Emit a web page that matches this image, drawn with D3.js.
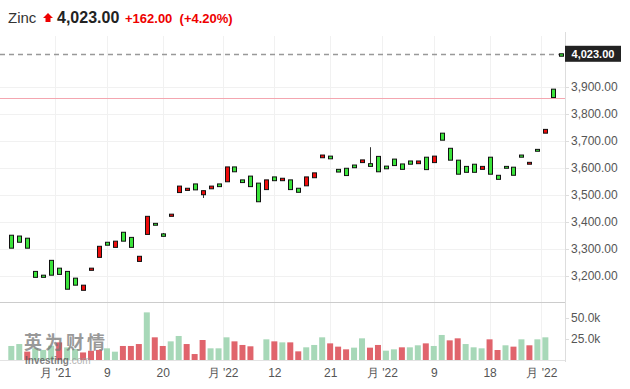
<!DOCTYPE html>
<html>
<head>
<meta charset="utf-8">
<script src="https://cdn.jsdelivr.net/npm/d3@7"></script>
<style>
  body { margin:0; padding:0; background:#fff; }
  svg { display:block; font-family: Arial, "Liberation Sans", "Noto Sans CJK SC", sans-serif; }
</style>
</head>
<body>
<svg id="chart" width="630" height="389"></svg>
<script>
// daily candles, one per trading day (index 0..69)
var opens  = [3303,3325,3303,3195,3195,3203,3206,3151,3166,3166,3229,3310,3314,3329,3329,3306,3273,3421,3388,3347,
              3429,3533,3525,3519,3516,3533,3531,3604,3586,3546,3531,3475,3556,3553,3562,3520,3510,3567,3582,3648,
              3634,3585,3572,3601,3630,3606,3586,3597,3609,3595,3614,3626,3594,3644,3703,3629,3577,3584,3584,3606,
              3577,3558,3599,3573,3640,3621,3662,3743,3861,4014];
var closes = [3351,3348,3340,3217,3203,3258,3229,3217,3192,3147,3221,3269,3325,3306,3362,3343,3254,3354,3395,3356,
              3421,3509,3517,3541,3501,3523,3541,3549,3604,3556,3570,3544,3520,3567,3553,3556,3525,3534,3564,3638,
              3644,3595,3599,3611,3620,3616,3643,3607,3633,3615,3626,3616,3640,3620,3729,3673,3629,3606,3614,3595,
              3640,3573,3606,3603,3648,3614,3669,3729,3892,4023];
// the few days that show a wick
var wickIdx = [19, 24, 45];
var wickHi  = [3359, 3516, 3677];
var wickLo  = [3347, 3489, 3606];

// volume in thousands, and whether the bar is drawn green
var volumes = [16.7,19,10,14,12,17,21,15,13,9,11,12,13.9,9.9,16.7,16.7,19,56.7,27,16.7,
               22.2,28.6,19,7.1,23.8,13.9,13.9,27,22.2,17.9,16.3,0,24.6,22.2,21,21,10.3,15.1,17.9,27,
               19.8,15.9,12.7,14.7,25.8,14.7,17.9,11.1,12.7,15.1,15.1,17.5,19.8,16.7,29.8,23.4,25.8,19,15.1,13.9,
               24.6,11.9,17.5,15.9,24.6,17.5,24.6,27,0,0];
var volUp = [1,1,0,1,1,1,0,1,1,0,0,0,1,1,0,0,0,1,0,0,
             1,1,0,0,0,1,1,1,0,0,0,1,1,0,1,0,0,1,1,1,
             0,0,0,1,1,0,0,1,1,0,1,1,0,1,1,0,0,1,1,1,
             0,0,1,0,1,0,1,1,1,1];

var priceTicks = [3200,3300,3400,3500,3600,3700,3800,3900];
var volTicks = [25,50];
var dayTicks = [5.5,12,19,26.5,33,40,46.5,53,60,66.5];
var dayLabels = ["月 '21","9","20","月 '22","12","21","月 '22","9","18","月 '22"];

var lastPrice = 4023, change = 162, changePct = 4.20;
var prevClose = lastPrice - change;

var svg = d3.select("#chart");
var plotLeft = 0, plotRight = 565, plotTop = 36, plotBottom = 300;
var volTop = 302, volBottom = 360;

var x = d3.scaleLinear().domain([0, 69]).range([11.3, 561.3]);
var y = d3.scaleLinear().domain([3200, 3900]).range([276, 87]);
var yv = d3.scaleLinear().domain([0, 50]).range([volBottom, 318]);

// header
var head = svg.append("g");
head.append("text").attr("x", 8).attr("y", 23).attr("font-size", 15).attr("fill", "#333").text("Zinc");
head.append("path").attr("d", "M48,13 L53,18 L50.5,18 L50.5,22 L45.5,22 L45.5,18 L43,18 Z").attr("fill", "#e00");
head.append("text").attr("x", 57).attr("y", 23).attr("font-size", 16).attr("font-weight", "bold").attr("fill", "#222")
    .text(d3.format(",.2f")(lastPrice));
head.append("text").attr("x", 125).attr("y", 23).attr("font-size", 13).attr("font-weight", "bold").attr("fill", "#e00")
    .text("+" + d3.format(".2f")(change) + "  (+" + d3.format(".2f")(changePct) + "%)")
    .attr("xml:space", "preserve").style("white-space", "pre");

// grids
var grid = svg.append("g").attr("stroke", "#f1f1f1").attr("stroke-width", 1);
grid.selectAll(".hg").data(priceTicks).enter().append("line")
    .attr("x1", plotLeft).attr("x2", plotRight)
    .attr("y1", function(d) { return Math.round(y(d)) + 0.5; })
    .attr("y2", function(d) { return Math.round(y(d)) + 0.5; });
grid.selectAll(".vg").data(dayTicks).enter().append("line")
    .attr("x1", function(d) { return Math.round(x(d)) + 0.5; })
    .attr("x2", function(d) { return Math.round(x(d)) + 0.5; })
    .attr("y1", plotTop).attr("y2", volBottom);

// previous close line
svg.append("line").attr("x1", plotLeft).attr("x2", plotRight)
    .attr("y1", Math.round(y(prevClose)) + 0.5).attr("y2", Math.round(y(prevClose)) + 0.5)
    .attr("stroke", "#f4a6b0").attr("stroke-width", 1);

// last price dashed line
svg.append("line").attr("x1", plotLeft).attr("x2", plotRight)
    .attr("y1", Math.round(y(lastPrice)) + 0.5).attr("y2", Math.round(y(lastPrice)) + 0.5)
    .attr("stroke", "#999").attr("stroke-width", 1.5).attr("stroke-dasharray", "5,4");

// volume panel frame
svg.append("line").attr("x1", 0).attr("x2", plotRight).attr("y1", volTop + 0.5).attr("y2", volTop + 0.5)
    .attr("stroke", "#ccc");
svg.append("line").attr("x1", 0).attr("x2", plotRight).attr("y1", volBottom + 0.5).attr("y2", volBottom + 0.5)
    .attr("stroke", "#e3e3e3");

// volume bars
var days = d3.range(opens.length);
svg.append("g").selectAll("rect").data(days.filter(function(i) { return volumes[i] > 0; })).enter().append("rect")
    .attr("x", function(i) { return x(i) - 3; })
    .attr("width", 6)
    .attr("y", function(i) { return yv(volumes[i]); })
    .attr("height", function(i) { return volBottom - yv(volumes[i]); })
    .attr("fill", function(i) { return volUp[i] ? "#a7d8b8" : "#e0646c"; });

// watermark
var wm = svg.append("g").attr("opacity", 0.75);
wm.append("text").attr("x", 24).attr("y", 349).attr("font-size", 18).attr("font-weight", "bold")
    .attr("letter-spacing", 3)
    .attr("font-family", "'Noto Sans CJK SC', sans-serif").attr("fill", "#777").text("英为财情");
wm.append("text").attr("x", 25).attr("y", 364).attr("font-size", 10).attr("font-weight", "bold").attr("fill", "#555")
    .text("Investing").append("tspan").attr("font-weight", "normal").attr("fill", "#999").text(".com");

// candles
var candles = svg.append("g");
candles.selectAll(".wick").data(wickIdx).enter().append("line")
    .attr("x1", function(d) { return Math.round(x(d)) + 0.5; })
    .attr("x2", function(d) { return Math.round(x(d)) + 0.5; })
    .attr("y1", function(d, k) { return y(wickHi[k]); })
    .attr("y2", function(d, k) { return y(wickLo[k]); })
    .attr("stroke", "#333").attr("stroke-width", 1);
candles.selectAll(".body").data(days).enter().append("rect")
    .attr("x", function(i) { return Math.round(x(i)) - 2 + 0.5; })
    .attr("width", 4)
    .attr("y", function(i) { return y(Math.max(opens[i], closes[i])); })
    .attr("height", function(i) { return Math.max(1.5, Math.abs(y(opens[i]) - y(closes[i]))); })
    .attr("fill", function(i) { return closes[i] >= opens[i] ? "#3be33b" : "#ee0b0b"; })
    .attr("stroke", "#111").attr("stroke-width", 1);

// right price axis
var pAxis = svg.append("g").attr("transform", "translate(" + plotRight + ",0)")
    .call(d3.axisRight(y).tickValues(priceTicks).tickFormat(d3.format(",.2f")).tickSize(4).tickSizeOuter(0));
pAxis.select(".domain").attr("d", "M0.5," + (plotTop - 4) + "V" + (volBottom + 2)).attr("stroke", "#ddd");
pAxis.selectAll(".tick line").attr("stroke", "#ddd");
pAxis.selectAll(".tick text").attr("font-size", 12).attr("fill", "#555").attr("font-family", null).attr("x", 6);

// volume axis
var vAxis = svg.append("g").attr("transform", "translate(" + plotRight + ",0)")
    .call(d3.axisRight(yv).tickValues(volTicks).tickFormat(function(d) { return d3.format(".1f")(d) + "k"; }).tickSize(4).tickSizeOuter(0));
vAxis.select(".domain").remove();
vAxis.selectAll(".tick line").attr("stroke", "#ddd");
vAxis.selectAll(".tick text").attr("font-size", 12).attr("fill", "#555").attr("font-family", null).attr("x", 6);

// last price label
svg.append("rect").attr("x", plotRight).attr("y", y(lastPrice) - 8).attr("width", 56).attr("height", 16).attr("fill", "#222");
svg.append("text").attr("x", plotRight + 28).attr("y", y(lastPrice) + 4).attr("text-anchor", "middle")
    .attr("font-size", 11).attr("font-weight", "bold").attr("fill", "#fff").text(d3.format(",.2f")(lastPrice));

// bottom day axis
var dAxis = svg.append("g").attr("transform", "translate(0," + volBottom + ")")
    .call(d3.axisBottom(x).tickValues(dayTicks).tickFormat(function(d, k) { return dayLabels[k]; }).tickSize(0));
dAxis.select(".domain").remove();
dAxis.selectAll(".tick text").attr("font-size", 12).attr("fill", "#555").attr("font-family", null).attr("dy", "0.71em").attr("y", 8);
</script>
</body>
</html>
